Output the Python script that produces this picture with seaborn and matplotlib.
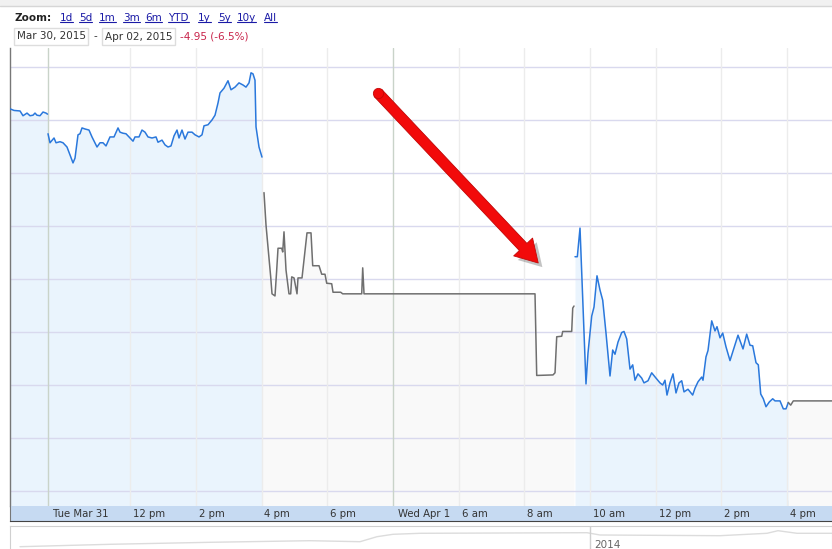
import numpy as np
import pandas as pd
import matplotlib
matplotlib.use("Agg")
import matplotlib.pyplot as plt
import matplotlib.patheffects as pe
from matplotlib.lines import Line2D
from matplotlib.patches import Rectangle
import seaborn as sns

# time axis: hours on the compressed session clock, 0 = Tue Mar 31 9:30 am
mon_t = [-1.157, -1.035, -0.852, -0.761, -0.639, -0.548, -0.457, -0.396, -0.335, -0.244, -0.152, -0.061, -0.015]
mon_p = [77.21, 77.18, 77.17, 77.08, 77.13, 77.08, 77.09, 77.13, 77.09, 77.08, 77.15, 77.13, 77.11]

tue_t = [0.0, 0.061, 0.183, 0.244, 0.365, 0.457, 0.578, 0.670, 0.761, 0.822, 0.913, 0.974, 1.035, 1.126,
         1.248, 1.339, 1.492, 1.583, 1.674, 1.766, 1.887, 2.009, 2.131, 2.192, 2.283, 2.374, 2.466, 2.588,
         2.648, 2.770, 2.861, 2.953, 3.044, 3.166, 3.288, 3.349, 3.470, 3.562, 3.653, 3.744, 3.836, 3.927,
         3.988, 4.079, 4.170, 4.262, 4.384, 4.475, 4.597, 4.688, 4.749, 4.871, 4.992, 5.084, 5.175, 5.236,
         5.358, 5.479, 5.571, 5.693, 5.814, 5.936, 6.027, 6.119, 6.180, 6.240, 6.301, 6.332, 6.423, 6.514]
tue_p = [76.74, 76.57, 76.66, 76.57, 76.59, 76.57, 76.49, 76.34, 76.19, 76.28, 76.72, 76.74, 76.85, 76.83,
         76.81, 76.68, 76.49, 76.57, 76.57, 76.51, 76.68, 76.68, 76.85, 76.77, 76.75, 76.74, 76.68, 76.60,
         76.68, 76.68, 76.81, 76.77, 76.68, 76.66, 76.68, 76.58, 76.62, 76.53, 76.49, 76.51, 76.70, 76.81,
         76.66, 76.81, 76.64, 76.77, 76.77, 76.72, 76.68, 76.72, 76.89, 76.91, 77.00, 77.09, 77.32, 77.51,
         77.60, 77.74, 77.57, 77.62, 77.70, 77.66, 77.62, 77.70, 77.89, 77.87, 77.75, 76.87, 76.49, 76.30]

ext_t = [6.575, 6.636, 6.697, 6.779, 6.819, 6.910, 6.962, 7.002, 7.114, 7.145, 7.184, 7.245, 7.275,
         7.336, 7.388, 7.419, 7.489, 7.580, 7.610, 7.732, 7.793, 7.884, 8.006, 8.058, 8.250, 8.332, 8.432,
         8.484, 8.636, 8.676, 8.910, 8.971, 9.550, 9.580, 9.620, 14.825, 14.877, 15.373, 15.434, 15.486,
         15.638, 15.668, 15.942, 15.973, 16.012]
ext_p = [75.63, 75.02, 74.60, 74.04, 73.72, 73.68, 74.17, 74.58, 74.58, 74.51, 74.89, 74.17, 74.02,
         73.72, 73.72, 74.04, 74.02, 73.72, 74.02, 74.02, 74.36, 74.87, 74.87, 74.25, 74.25, 74.09, 74.09,
         73.92, 73.91, 73.75, 73.75, 73.72, 73.72, 74.21, 73.72, 73.72, 72.18, 72.19, 72.23, 72.91,
         72.92, 73.01, 73.01, 73.45, 73.49]

wed_t = [16.043, 16.113, 16.195, 16.377, 16.438, 16.551, 16.621, 16.712, 16.804, 16.886, 16.986, 17.108,
         17.190, 17.260, 17.352, 17.464, 17.534, 17.616, 17.717, 17.799, 17.869, 17.960, 18.073, 18.143,
         18.265, 18.377, 18.508, 18.630, 18.712, 18.782, 18.843, 18.934, 19.026, 19.117, 19.209, 19.291,
         19.361, 19.482, 19.625, 19.696, 19.787, 19.900, 19.939, 20.030, 20.091, 20.204, 20.304, 20.365,
         20.457, 20.539, 20.639, 20.761, 20.883, 21.005, 21.157, 21.269, 21.370, 21.452, 21.553, 21.623,
         21.696, 21.775, 21.857, 21.958, 22.061, 22.131, 22.283, 22.384, 22.466, 22.536]
wed_p = [74.42, 74.42, 74.96, 72.02, 72.60, 73.30, 73.47, 74.06, 73.79, 73.60, 72.98, 72.17,
         72.66, 72.58, 72.81, 72.99, 73.01, 72.87, 72.30, 72.38, 72.09, 72.21, 72.13, 72.04,
         72.08, 72.23, 72.13, 72.04, 72.00, 72.09, 71.81, 72.04, 72.21, 71.85, 72.04, 72.08,
         71.87, 71.92, 71.81, 71.94, 72.06, 72.15, 72.09, 72.53, 72.65, 73.21, 73.02, 73.10,
         72.89, 72.98, 72.72, 72.46, 72.70, 72.94, 72.68, 72.96, 72.75, 72.74, 72.42, 72.38,
         71.83, 71.74, 71.59, 71.68, 71.74, 71.70, 71.70, 71.55, 71.55, 71.67]

post_t = [22.536, 22.609, 22.688, 23.866]
post_p = [71.67, 71.62, 71.70, 71.70]

tick_pos = [0, 2.5, 4.5, 6.5, 8.5, 10.5, 12.5, 14.5, 16.5, 18.5, 20.5, 22.5]
tick_labels = ["Tue Mar 31", "12 pm", "2 pm", "4 pm", "6 pm", "Wed Apr 1",
               "6 am", "8 am", "10 am", "12 pm", "2 pm", "4 pm"]
day_ticks = [0, 10.5]
price_grid = [70, 71, 72, 73, 74, 75, 76, 77, 78]

# long range navigator strip
nav_t = [1.0, 10.0, 20.0, 30.0, 35.0, 36.7, 38.3, 41.0, 57.7, 59.0, 71.0, 75.7, 76.8, 78.7, 83.2]
nav_v = [2.3, 4.7, 6.7, 8.3, 7.3, 12.3, 14.7, 15.7, 16.3, 14.0, 13.3, 15.7, 18.3, 15.7, 15.7]

zoom_links = ["1d", "5d", "1m", "3m", "6m", "YTD", "1y", "5y", "10y", "All"]
zoom_x = [60, 79, 99, 123, 145, 168, 198, 218, 237, 264]
range_start = "Mar 30, 2015"
range_end = "Apr 02, 2015"
range_change = "-4.95 (-6.5%)"

BLUE = "#2a78dc"
GRAY = "#6f6f6f"
W, H = 832, 549


def fx(px):
    return px / W


def fy(py):
    return 1 - py / H


def main():
    sns.set_style("white")
    plt.rcParams["font.family"] = ["DejaVu Sans"]

    fig = plt.figure(figsize=(W / 100, H / 100), dpi=100)
    fig.patch.set_facecolor("white")

    # header
    fig.add_artist(Rectangle((0, fy(6)), 1, fy(0) - fy(6), transform=fig.transFigure,
                             facecolor="#f1f1f1", edgecolor="none"))
    fig.add_artist(Line2D([0, 1], [fy(6), fy(6)], transform=fig.transFigure, color="#d6d6d6", lw=1))
    fig.text(fx(15), fy(18), "Zoom:", fontsize=7.5, fontweight="bold", va="center", color="#222")
    link_texts = []
    for lab, x in zip(zoom_links, zoom_x):
        link_texts.append(fig.text(fx(x), fy(18), lab, fontsize=7.5, va="center", color="#1a1aa6"))
    for x0, x1, lab in [(14, 88, range_start), (102, 175, range_end)]:
        fig.add_artist(Rectangle((fx(x0), fy(45)), fx(x1) - fx(x0), fy(28) - fy(45),
                                 transform=fig.transFigure, facecolor="white", edgecolor="#dddddd", lw=1))
        fig.text(fx(x0 + 3), fy(36.5), lab, fontsize=7.5, va="center", color="#333")
    fig.text(fx(93), fy(36), "-", fontsize=7.5, va="center", color="#333")
    fig.text(fx(180), fy(36.5), range_change, fontsize=7.5, va="center", color="#c8234a")

    # main chart
    ax = fig.add_axes([fx(10), fy(506), fx(832) - fx(10), fy(48) - fy(506)])
    ax.set_facecolor("white")

    frames = []
    for name, t, p, kind in [("mon", mon_t, mon_p, "regular"), ("tue", tue_t, tue_p, "regular"),
                             ("ext", ext_t, ext_p, "extended"), ("wed", wed_t, wed_p, "regular"),
                             ("post", post_t, post_p, "extended")]:
        frames.append(pd.DataFrame({"t": t, "price": p, "segment": name, "session": kind}))
    df = pd.concat(frames, ignore_index=True)

    ymin, ymax = 69.717, 78.358
    fills = {"regular": "#eaf4fd", "extended": "#f9f9f9"}
    # Mon + Tue share one blue band
    ax.fill_between(mon_t + [0.0] + tue_t, mon_p + [tue_p[0]] + tue_p, ymin, color=fills["regular"], lw=0)
    ax.fill_between([tue_t[-1]] + ext_t, [ext_p[0]] + ext_p, ymin, color=fills["extended"], lw=0)
    ax.fill_between(wed_t, wed_p, ymin, color=fills["regular"], lw=0)
    ax.fill_between(post_t, post_p, ymin, color=fills["extended"], lw=0)

    for g in price_grid:
        ax.axhline(g, color="#d9d9ee", lw=1, zorder=1)
    for t in tick_pos:
        ax.axvline(t, color="#c9d3c9" if t in day_ticks else "#ececec", lw=1, zorder=1)

    sns.lineplot(data=df, x="t", y="price", hue="session", units="segment", estimator=None,
                 sort=False, palette={"regular": BLUE, "extended": GRAY}, lw=1.1,
                 legend=False, ax=ax, zorder=3)

    ax.set_xlim(-1.157, 23.866)
    ax.set_ylim(ymin, ymax)
    ax.set_xticks(tick_pos)
    ax.set_xticklabels([])
    ax.set_yticks([])
    ax.tick_params(axis="x", direction="in", length=4, width=1, color="#333", bottom=True)
    ax.set_xlabel("")
    ax.set_ylabel("")
    for s in ["top", "right", "bottom"]:
        ax.spines[s].set_visible(False)
    ax.spines["left"].set_color("#777")
    ax.spines["left"].set_linewidth(1)

    # arrow
    shadow = [pe.SimplePatchShadow(offset=(3, -3), alpha=0.35, shadow_rgbFace="#555555"), pe.Normal()]
    ax.annotate("", xy=(0.6426, 0.5306), xytext=(0.4477, 0.9017),
                xycoords="axes fraction", textcoords="axes fraction",
                arrowprops=dict(arrowstyle="simple,head_length=0.72,head_width=0.85,tail_width=0.34",
                                mutation_scale=22, fc="#f20a0a", ec="#c40808", lw=0.6,
                                shrinkA=0, shrinkB=0, path_effects=shadow),
                zorder=6)
    ax.plot([0.4477], [0.9017], "o", ms=7.4, color="#f20a0a", mec="#c40808", mew=0.6,
            transform=ax.transAxes, zorder=7, clip_on=False)

    # time axis bar
    bar = fig.add_axes([fx(10), fy(521), fx(832) - fx(10), fy(506) - fy(521)])
    bar.set_facecolor("#c6daf2")
    bar.set_xlim(-1.157, 23.866)
    bar.set_ylim(0, 1)
    bar.set_xticks([])
    bar.set_yticks([])
    for s in ["top", "right"]:
        bar.spines[s].set_visible(False)
    bar.spines["bottom"].set_color("#444")
    bar.spines["left"].set_color("#777")
    for t, lab in zip(tick_pos, tick_labels):
        off = 0.15 if t in day_ticks else 0.09
        bar.text(t + off, 0.45, lab, fontsize=7.3, va="center", ha="left", color="#333")

    # navigator
    nav = fig.add_axes([fx(10), fy(549), fx(832) - fx(10), fy(526) - fy(549)])
    nav.set_facecolor("white")
    nav.plot(nav_t, nav_v, color="#dcdcdc", lw=1)
    nav.set_xlim(0, 82.2)
    nav.set_ylim(0, 23)
    nav.set_xticks([])
    nav.set_yticks([])
    for s in nav.spines.values():
        s.set_color("#d0d0d0")
    nav.spines["bottom"].set_visible(False)
    nav.axvline(58.0, color="#d0d0d0", lw=1)
    nav.text(58.4, 3.5, "2014", fontsize=7.5, va="center", ha="left", color="#666")

    # underline zoom links
    fig.canvas.draw()
    inv = fig.transFigure.inverted()
    for txt in link_texts:
        bb = txt.get_window_extent()
        (x0, y0), (x1, _) = inv.transform([[bb.x0, bb.y0], [bb.x1, bb.y1]])
        fig.add_artist(Line2D([x0, x1], [y0 + 0.002, y0 + 0.002], transform=fig.transFigure,
                              color="#1a1aa6", lw=0.8))

    fig.savefig("out.png", dpi=100)


if __name__ == "__main__":
    main()
